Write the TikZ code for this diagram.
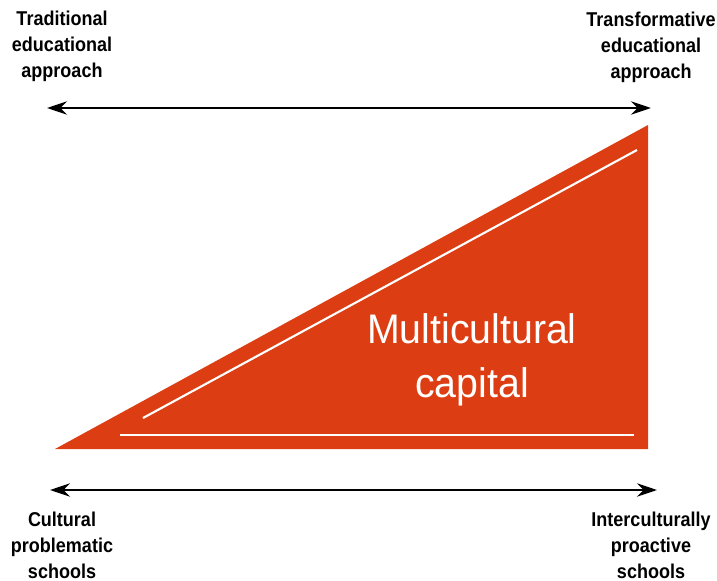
\documentclass[tikz,border=0pt]{standalone}
\usepackage{fontspec}
\usetikzlibrary{arrows.meta}
\newfontfamily\labelfont[FakeStretch=0.9]{Liberation Sans}
\newfontfamily\capfont[FakeStretch=0.95]{Liberation Sans}
\definecolor{capred}{RGB}{220,61,18}

\tikzset{every picture/.style={line width=0.75pt}}
\tikzset{
  endlabel/.style={align=center,inner sep=0.75pt,font=\labelfont\bfseries\fontsize{15}{19.5}\selectfont},
  scalearrow/.style={line width=2pt,{Stealth[length=15pt,width=10pt]}-{Stealth[length=15pt,width=10pt]}},
  whiteline/.style={draw=white,line width=1.6pt}
}

\begin{document}
\begin{tikzpicture}[x=0.75pt,y=0.75pt,yscale=-1,xscale=1]
	\useasboundingbox (0,0) rectangle (717,581);

	%Shape: Triangle [id:capital]
	\fill [capred] (55,449) -- (648,125) -- (648,449) -- cycle ;
	%Straight Lines [id:diag]
	\draw [whiteline]    (143,418) -- (637,150) ;
	%Straight Lines [id:base]
	\draw [whiteline]    (120,435) -- (634,435) ;

	% Text Node
	\node (cap) [align=center,inner sep=0.75pt,text=white,font=\capfont\fontsize{31}{40.5}\selectfont] at (472,360) {Multicultural\\capital};

	% Text Node
	\node (trad) [endlabel] at (62,46) {Traditional\\educational\\approach};
	% Text Node
	\node (trans) [endlabel] at (651,47) {Transformative\\educational\\approach};
	% Text Node
	\node (cult) [endlabel] at (62,545) {Cultural\\problematic\\schools};
	% Text Node
	\node (inter) [endlabel] at (651,545) {Interculturally\\proactive\\schools};

	% Arrow ends
	\coordinate (topL) at (47,108);
	\coordinate (topR) at (651,108);
	\coordinate (botL) at (50,490);
	\coordinate (botR) at (657,490);
	% Connection
	\draw [scalearrow]    (topL) -- (topR) ;
	% Connection
	\draw [scalearrow]    (botL) -- (botR) ;

\end{tikzpicture}
\end{document}
